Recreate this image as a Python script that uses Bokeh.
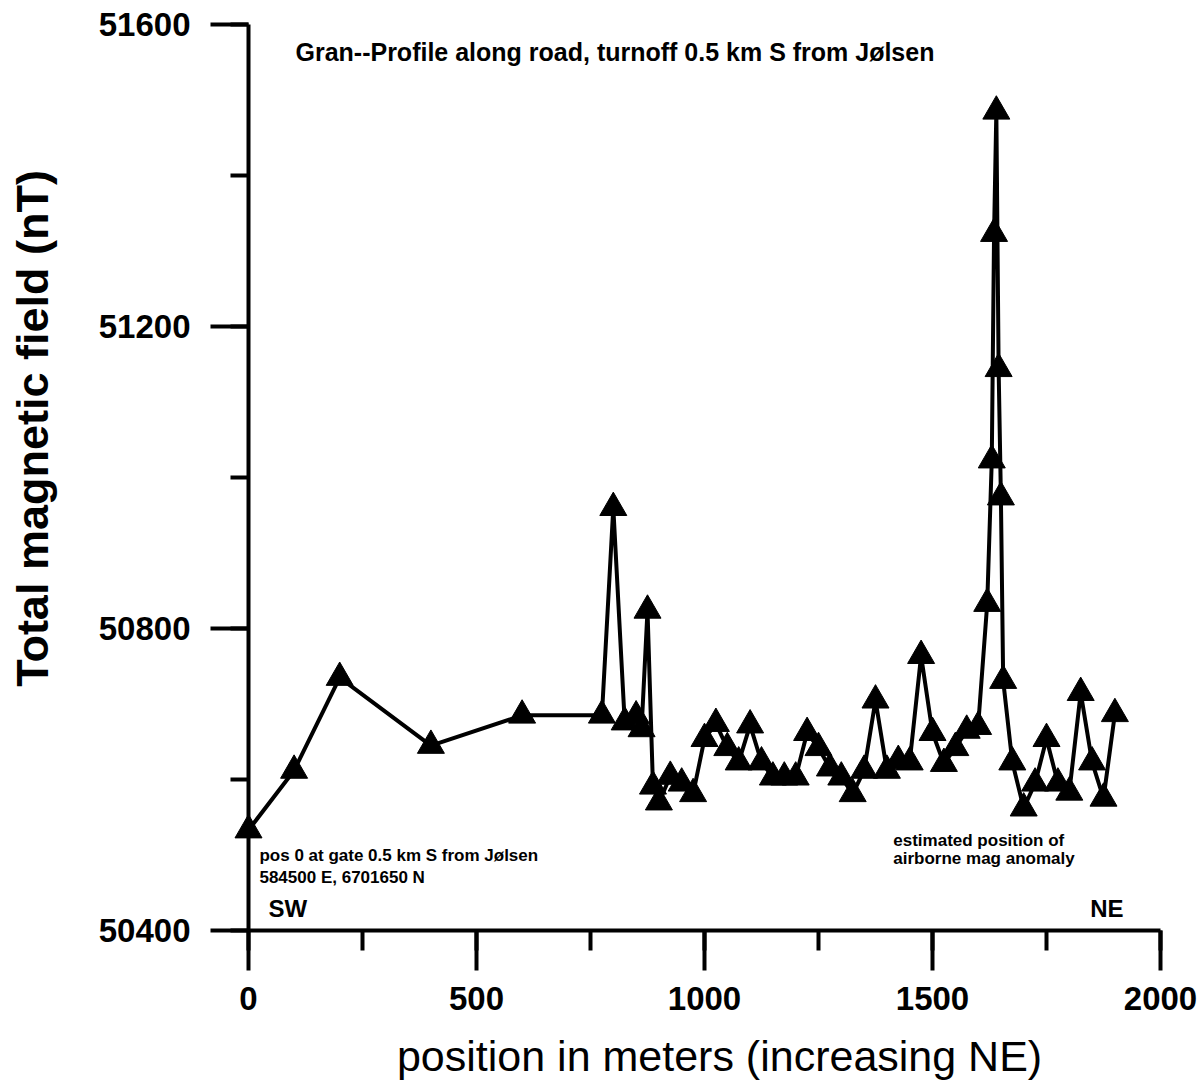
import math

from bokeh.plotting import figure
from bokeh.models import Range1d, SingleIntervalTicker, Label, LinearAxis
from bokeh.embed import file_html
from bokeh.resources import INLINE

# Ground magnetometer profile along the road (position in m, total field in nT)
position_m = [0, 100, 200, 400, 600, 775, 800, 825, 850, 862, 875, 887, 900,
              925, 950, 975, 1000, 1025, 1050, 1075, 1100, 1125, 1150, 1175,
              1200, 1225, 1250, 1275, 1300, 1325, 1350, 1375, 1400, 1425, 1450,
              1475, 1500, 1525, 1550, 1575, 1600, 1620, 1630, 1635, 1640, 1645,
              1650, 1655, 1675, 1700, 1725, 1750, 1775, 1800, 1825, 1850, 1875,
              1900]
field_nt = [50533, 50612, 50735, 50645, 50685, 50685, 50960, 50676, 50684,
            50667, 50824, 50591, 50570, 50604, 50595, 50581, 50654, 50674,
            50642, 50623, 50672, 50623, 50603, 50603, 50603, 50662, 50642,
            50615, 50603, 50581, 50612, 50705, 50612, 50625, 50623, 50764,
            50662, 50621, 50642, 50665, 50670, 50833, 51023, 51323, 51485,
            51144, 50974, 50731, 50623, 50562, 50595, 50654, 50595, 50583,
            50715, 50623, 50575, 50687]

x_ticks_step = 500
y_ticks_step = 400
x_axis_span = (0, 2000)
y_axis_span = (50400, 51600)

FONT = "Liberation Sans"

# The frame covers the whole canvas; the axes are pinned at x=0 and y=50400
# so that nothing (e.g. the marker at position 0) is cut at the axis line.
p = figure(width=1204, height=1081, output_backend="svg", toolbar_location=None,
           x_range=Range1d(-543.86, 2096.49), y_range=Range1d(50200, 51631.79),
           x_axis_type=None, y_axis_type=None,
           min_border_left=0, min_border_right=0,
           min_border_top=0, min_border_bottom=0)
p.outline_line_color = None
p.background_fill_color = "white"
p.border_fill_color = "white"


def style_axis(ax, tick_out, minor_out, standoff):
    ax.axis_line_width = 4
    ax.axis_line_color = "black"
    ax.major_tick_line_width = 4
    ax.minor_tick_line_width = 4
    ax.major_tick_line_color = "black"
    ax.minor_tick_line_color = "black"
    ax.major_tick_in = 0
    ax.minor_tick_in = 0
    ax.major_tick_out = tick_out
    ax.minor_tick_out = minor_out
    ax.major_label_text_font = FONT
    ax.major_label_text_font_style = "bold"
    ax.major_label_text_font_size = "33px"
    ax.major_label_text_color = "black"
    ax.major_label_standoff = standoff


xaxis = LinearAxis(ticker=SingleIntervalTicker(interval=x_ticks_step, num_minor_ticks=2),
                   bounds=x_axis_span, fixed_location=y_axis_span[0])
style_axis(xaxis, 40, 20, 16)
p.add_layout(xaxis, "below")

yaxis = LinearAxis(ticker=SingleIntervalTicker(interval=y_ticks_step, num_minor_ticks=2),
                   bounds=y_axis_span, fixed_location=x_axis_span[0])
style_axis(yaxis, 38, 18, 20)
p.add_layout(yaxis, "left")

p.line(position_m, field_nt, line_width=4, line_color="black")
p.scatter(position_m, field_nt, marker="triangle", size=27,
          fill_color="black", line_color="black")


def add_text(x, y, text, size, bold=True, align="left", angle=0.0):
    p.add_layout(Label(x=x, y=y, text=text, text_font=FONT,
                       text_font_style="bold" if bold else "normal",
                       text_font_size=size, text_color="black",
                       text_align=align, text_baseline="middle", angle=angle))


add_text(103, 51563, "Gran--Profile along road, turnoff 0.5 km S from Jølsen", "25px")
add_text(24, 50499, "pos 0 at gate 0.5 km S from Jølsen", "17px")
add_text(24, 50470, "584500 E, 6701650 N", "17px")
add_text(44, 50429, "SW", "24px")
add_text(1846, 50429, "NE", "24px")
add_text(1414, 50519, "estimated position of", "17px")
add_text(1414, 50495, "airborne mag anomaly", "17px")

# axis titles
add_text(-474, 51065, "Total magnetic field (nT)", "45px", align="center", angle=math.pi / 2)
add_text(1033, 50234, "position in meters (increasing NE)", "43px", bold=False, align="center")

open("out.html", "w").write(file_html(p, INLINE))
